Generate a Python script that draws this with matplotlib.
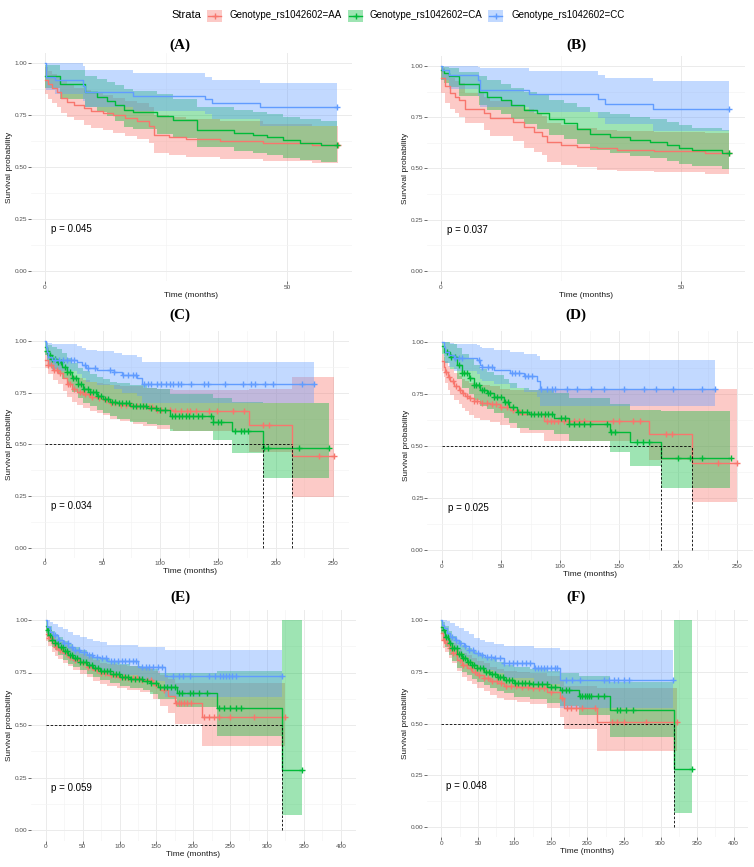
import numpy as np
import matplotlib
matplotlib.use("Agg")
import matplotlib.pyplot as plt
from matplotlib.patches import Rectangle

plt.rcParams['font.family'] = ['Liberation Sans', 'DejaVu Sans']

# ---------------- data ----------------
strata = ["Genotype_rs1042602=AA", "Genotype_rs1042602=CA", "Genotype_rs1042602=CC"]
colors = ["#F8766D", "#00BA38", "#619CFF"]
panel_labels = ["(A)", "(B)", "(C)", "(D)", "(E)", "(F)"]
pvals = ["p = 0.045", "p = 0.037", "p = 0.034", "p = 0.025", "p = 0.059", "p = 0.048"]

# Panel A
A_AA_t = [0, 0.7, 1.5, 2.5, 3.3, 4.5, 6, 8, 9.5, 12, 14, 16.5, 19, 21.5, 22.5, 25.5, 29, 36, 45, 55]
A_AA_s = [0.92, 0.90, 0.88, 0.86, 0.835, 0.815, 0.80, 0.785, 0.77, 0.76, 0.75, 0.735, 0.72, 0.70, 0.655, 0.645, 0.635, 0.625, 0.615, 0.605]
A_AA_lo = [0.85, 0.83, 0.81, 0.79, 0.76, 0.74, 0.725, 0.705, 0.69, 0.68, 0.665, 0.65, 0.635, 0.615, 0.57, 0.56, 0.55, 0.54, 0.53, 0.52]
A_AA_hi = [0.98, 0.965, 0.95, 0.935, 0.915, 0.895, 0.88, 0.87, 0.855, 0.845, 0.835, 0.82, 0.81, 0.79, 0.75, 0.74, 0.73, 0.72, 0.71, 0.70]
A_AA_end = 60.5
A_AA_cens = [60.5]
A_CA_t = [0, 3.1, 8.2, 10.7, 12.7, 14.4, 16.2, 18.2, 23, 26.5, 31.3, 38.9, 43, 45.7, 49.2, 52.6, 57]
A_CA_s = [0.94, 0.90, 0.86, 0.84, 0.82, 0.80, 0.775, 0.765, 0.745, 0.725, 0.68, 0.665, 0.655, 0.643, 0.63, 0.615, 0.605]
A_CA_lo = [0.88, 0.83, 0.79, 0.765, 0.745, 0.72, 0.695, 0.685, 0.66, 0.64, 0.595, 0.58, 0.57, 0.56, 0.545, 0.535, 0.525]
A_CA_hi = [0.99, 0.97, 0.94, 0.925, 0.91, 0.895, 0.875, 0.865, 0.85, 0.83, 0.79, 0.775, 0.765, 0.755, 0.74, 0.73, 0.72]
A_CA_end = 60.3
A_CA_cens = [60.3]
A_CC_t = [0, 0.2, 2.1, 7.9, 8.3, 18.2, 33, 34.4, 44.4]
A_CC_s = [1.0, 0.935, 0.918, 0.89, 0.862, 0.843, 0.83, 0.81, 0.79]
A_CC_lo = [1.0, 0.87, 0.85, 0.82, 0.79, 0.77, 0.755, 0.73, 0.70]
A_CC_hi = [1.0, 1.0, 1.0, 0.985, 0.97, 0.955, 0.935, 0.92, 0.905]
A_CC_end = 60.2
A_CC_cens = [60.2]

# Panel B
B_AA_t = [0, 0.9, 1.9, 3.0, 3.7, 5.1, 8.9, 10.3, 15.1, 17.2, 19.3, 21, 22.1, 24.9, 28.3, 32.5, 36.7, 44.3, 55]
B_AA_s = [0.94, 0.90, 0.87, 0.85, 0.835, 0.79, 0.77, 0.745, 0.725, 0.70, 0.68, 0.66, 0.63, 0.615, 0.607, 0.598, 0.59, 0.585, 0.578]
B_AA_lo = [0.87, 0.82, 0.79, 0.77, 0.75, 0.72, 0.69, 0.66, 0.635, 0.60, 0.58, 0.565, 0.53, 0.515, 0.505, 0.495, 0.49, 0.485, 0.475]
B_AA_hi = [0.99, 0.96, 0.94, 0.925, 0.915, 0.87, 0.85, 0.83, 0.81, 0.79, 0.77, 0.755, 0.72, 0.71, 0.70, 0.69, 0.685, 0.68, 0.675]
B_AA_end = 60.1
B_AA_cens = [60.1]
B_CA_t = [0, 0.55, 1.6, 3.7, 7.9, 9.6, 12.4, 14.6, 17.2, 20, 22.4, 25.6, 28.3, 31.1, 35.3, 39.4, 43.6, 47.1, 49.5, 52.3, 58.5]
B_CA_s = [0.98, 0.965, 0.95, 0.91, 0.875, 0.85, 0.835, 0.81, 0.785, 0.77, 0.74, 0.72, 0.695, 0.667, 0.655, 0.64, 0.63, 0.615, 0.60, 0.59, 0.578]
B_CA_lo = [0.93, 0.915, 0.90, 0.855, 0.81, 0.785, 0.765, 0.74, 0.715, 0.695, 0.665, 0.645, 0.62, 0.59, 0.575, 0.56, 0.55, 0.535, 0.52, 0.51, 0.50]
B_CA_hi = [1.0, 0.995, 0.99, 0.97, 0.95, 0.93, 0.91, 0.895, 0.875, 0.86, 0.835, 0.82, 0.80, 0.775, 0.765, 0.75, 0.74, 0.725, 0.71, 0.70, 0.69]
B_CA_end = 60.1
B_CA_cens = [60.1]
B_CC_t = [0, 0.3, 1.6, 7.8, 8.2, 18.3, 32.8, 34.1, 44.2]
B_CC_s = [1.0, 0.98, 0.955, 0.93, 0.885, 0.862, 0.837, 0.815, 0.79]
B_CC_lo = [1.0, 0.93, 0.89, 0.855, 0.80, 0.775, 0.745, 0.715, 0.685]
B_CC_hi = [1.0, 1.0, 1.0, 0.995, 0.99, 0.975, 0.955, 0.94, 0.925]
B_CC_end = 60.1
B_CC_cens = [60.1]

# Panel C
C_AA_t = [0, 2.3, 7.2, 11.6, 15.9, 18.8, 23.1, 27.5, 33.2, 39, 44.8, 50.6, 56.4, 65, 76.6, 85.3, 96.8, 111, 177, 214]
C_AA_s = [0.91, 0.885, 0.86, 0.845, 0.82, 0.79, 0.77, 0.755, 0.745, 0.73, 0.722, 0.714, 0.70, 0.69, 0.685, 0.68, 0.668, 0.662, 0.595, 0.445]
C_AA_lo = [0.87, 0.84, 0.81, 0.79, 0.76, 0.73, 0.705, 0.69, 0.675, 0.66, 0.65, 0.64, 0.625, 0.615, 0.60, 0.59, 0.575, 0.565, 0.465, 0.245]
C_AA_hi = [0.95, 0.93, 0.91, 0.895, 0.875, 0.85, 0.83, 0.82, 0.81, 0.80, 0.795, 0.79, 0.785, 0.78, 0.78, 0.775, 0.77, 0.765, 0.77, 0.825]
C_AA_end = 251
C_AA_cens = [3, 5, 8, 10, 13, 20, 22, 25, 30, 33, 35, 38, 41, 47, 53, 57, 61, 66, 70, 75, 80, 85, 90, 93, 97, 101, 108, 113, 118, 123, 126, 131, 142, 149, 163, 173, 189, 194, 238, 251]
C_CA_t = [0, 1.4, 2.9, 5.8, 10.1, 14.5, 18.8, 23.1, 28.9, 33.2, 39, 44.8, 50.6, 56.4, 62.1, 73.7, 88.2, 97, 108, 146, 162, 189]
C_CA_s = [0.97, 0.95, 0.93, 0.915, 0.90, 0.875, 0.85, 0.82, 0.79, 0.77, 0.755, 0.735, 0.72, 0.705, 0.698, 0.685, 0.675, 0.668, 0.637, 0.606, 0.566, 0.48]
C_CA_lo = [0.93, 0.905, 0.885, 0.865, 0.845, 0.815, 0.79, 0.755, 0.725, 0.70, 0.685, 0.665, 0.65, 0.635, 0.625, 0.61, 0.60, 0.595, 0.565, 0.52, 0.46, 0.335]
C_CA_hi = [1.0, 0.99, 0.98, 0.97, 0.96, 0.94, 0.92, 0.895, 0.87, 0.855, 0.84, 0.825, 0.815, 0.80, 0.795, 0.785, 0.775, 0.77, 0.745, 0.725, 0.705, 0.70]
C_CA_end = 246
C_CA_cens = [2, 4, 6, 9, 11, 14, 17, 19, 22, 24, 27, 29, 31, 34, 37, 39, 42, 44, 46, 49, 52, 55, 58, 61, 64, 67, 70, 73, 76, 79, 82, 85, 88, 92, 96, 100, 104, 110, 113, 116, 119, 122, 125, 128, 133, 136, 144, 146, 150, 153, 165, 170, 173, 176, 190, 193, 220, 246]
C_CC_t = [0, 0.5, 1.5, 3, 6, 28, 32, 36, 45, 60, 67, 80, 84]
C_CC_s = [1.0, 0.97, 0.945, 0.925, 0.91, 0.90, 0.885, 0.87, 0.86, 0.85, 0.835, 0.82, 0.79]
C_CC_lo = [1.0, 0.93, 0.90, 0.875, 0.855, 0.84, 0.82, 0.80, 0.785, 0.77, 0.75, 0.735, 0.70]
C_CC_hi = [1.0, 1.0, 0.995, 0.99, 0.985, 0.975, 0.965, 0.955, 0.95, 0.94, 0.93, 0.925, 0.90]
C_CC_end = 233
C_CC_cens = [9, 12, 16, 19, 23, 25, 35, 37, 43, 56, 60, 68, 72, 76, 79, 86, 89, 92, 97, 101, 105, 108, 111, 115, 118, 127, 138, 141, 156, 172, 179, 182, 191, 198, 223, 233]

# Panel D
D_AA_t = [0, 1.4, 2.8, 4.8, 7.1, 9.9, 14.1, 17, 19.8, 22.6, 26.8, 32.5, 41, 49.4, 57.9, 66.4, 86.2, 175, 212]
D_AA_s = [0.905, 0.88, 0.855, 0.83, 0.81, 0.785, 0.77, 0.752, 0.74, 0.728, 0.717, 0.707, 0.70, 0.688, 0.672, 0.653, 0.62, 0.557, 0.416]
D_AA_lo = [0.86, 0.83, 0.80, 0.77, 0.745, 0.72, 0.70, 0.68, 0.665, 0.65, 0.635, 0.625, 0.615, 0.60, 0.585, 0.56, 0.525, 0.43, 0.23]
D_AA_hi = [0.94, 0.925, 0.905, 0.885, 0.87, 0.85, 0.835, 0.82, 0.81, 0.80, 0.795, 0.79, 0.785, 0.775, 0.77, 0.77, 0.77, 0.77, 0.775]
D_AA_end = 250
D_AA_cens = [3, 6, 9, 12, 15, 18, 21, 24, 27, 30, 34, 38, 42, 46, 50, 55, 60, 89, 92, 95, 98, 103, 107, 112, 116, 120, 145, 150, 162, 168, 190, 195, 234, 250]
D_CA_t = [0, 1.4, 7.1, 12.7, 16.9, 22.6, 26.8, 32.5, 38.1, 43.8, 52.3, 56.5, 63.6, 73.4, 94.6, 107.3, 142.6, 159.6, 186]
D_CA_s = [0.98, 0.95, 0.928, 0.888, 0.848, 0.824, 0.792, 0.768, 0.752, 0.736, 0.712, 0.688, 0.664, 0.653, 0.632, 0.603, 0.568, 0.52, 0.44]
D_CA_lo = [0.94, 0.90, 0.87, 0.82, 0.78, 0.75, 0.72, 0.69, 0.675, 0.66, 0.635, 0.61, 0.585, 0.575, 0.555, 0.525, 0.47, 0.405, 0.30]
D_CA_hi = [1.0, 1.0, 0.99, 0.97, 0.94, 0.92, 0.89, 0.87, 0.855, 0.84, 0.82, 0.80, 0.78, 0.77, 0.755, 0.73, 0.70, 0.67, 0.665]
D_CA_end = 244
D_CA_cens = [4, 8, 11, 14, 17, 19, 21, 24, 27, 29, 31, 34, 36, 39, 41, 44, 47, 50, 53, 56, 60, 64, 68, 72, 75, 78, 81, 84, 87, 90, 93, 101, 104, 108, 112, 116, 120, 125, 140, 143, 147, 165, 170, 175, 200, 210, 220, 245]
D_CC_t = [0, 1.4, 2.8, 5.6, 9.9, 29.7, 32.5, 33.9, 43.8, 57.9, 69.2, 80.5, 83.3]
D_CC_s = [1.0, 0.975, 0.95, 0.935, 0.92, 0.91, 0.89, 0.88, 0.865, 0.85, 0.835, 0.81, 0.775]
D_CC_lo = [1.0, 0.93, 0.90, 0.88, 0.86, 0.845, 0.82, 0.81, 0.795, 0.78, 0.76, 0.735, 0.69]
D_CC_hi = [1.0, 1.0, 1.0, 0.995, 0.99, 0.985, 0.975, 0.97, 0.96, 0.95, 0.94, 0.93, 0.91]
D_CC_end = 231.6
D_CC_cens = [11, 14, 17, 31, 34, 39, 42, 59, 62, 65, 70, 73, 76, 84, 89, 93, 96, 106, 114, 126, 137, 154, 171, 181, 196, 220, 231.6]

# Panel E
E_AA_t = [0, 3.6, 8.1, 12.7, 17.2, 24, 30.7, 37.5, 46.6, 55.6, 64.6, 73.7, 82.7, 96.3, 109.8, 127.9, 146, 155, 166.3, 175.4, 211.5]
E_AA_s = [0.935, 0.913, 0.889, 0.873, 0.857, 0.841, 0.825, 0.81, 0.794, 0.778, 0.762, 0.746, 0.738, 0.73, 0.722, 0.714, 0.69, 0.667, 0.638, 0.606, 0.54]
E_AA_lo = [0.90, 0.875, 0.85, 0.83, 0.815, 0.795, 0.78, 0.76, 0.745, 0.73, 0.71, 0.695, 0.685, 0.675, 0.665, 0.655, 0.625, 0.59, 0.555, 0.505, 0.40]
E_AA_hi = [0.965, 0.945, 0.925, 0.91, 0.895, 0.88, 0.865, 0.855, 0.84, 0.825, 0.81, 0.795, 0.79, 0.785, 0.78, 0.775, 0.755, 0.74, 0.72, 0.70, 0.70]
E_AA_end = 324.5
E_AA_cens = [4, 7, 11, 14, 19, 22, 27, 33, 39, 44, 50, 57, 63, 69, 75, 81, 88, 94, 100, 106, 112, 118, 124, 131, 137, 143, 150, 160, 176, 180, 184, 188, 192, 197, 214, 222, 228, 235, 250, 282, 324.5]
E_CA_t = [0, 1.4, 3.6, 8.1, 12.7, 17.2, 24, 30.7, 37.5, 46.6, 55.6, 64.6, 73.7, 87.2, 100.8, 114.4, 132.4, 141.5, 152.8, 177.6, 231.9, 320]
E_CA_s = [0.97, 0.952, 0.929, 0.905, 0.889, 0.873, 0.852, 0.833, 0.817, 0.802, 0.786, 0.77, 0.757, 0.741, 0.727, 0.717, 0.711, 0.698, 0.679, 0.651, 0.579, 0.286]
E_CA_lo = [0.94, 0.92, 0.895, 0.87, 0.855, 0.835, 0.81, 0.79, 0.775, 0.76, 0.745, 0.73, 0.715, 0.70, 0.685, 0.675, 0.665, 0.65, 0.625, 0.585, 0.45, 0.07]
E_CA_hi = [1.0, 0.99, 0.97, 0.95, 0.935, 0.92, 0.9, 0.885, 0.87, 0.855, 0.84, 0.825, 0.815, 0.80, 0.79, 0.78, 0.775, 0.765, 0.75, 0.75, 0.755, 1.0]
E_CA_end = 347
E_CA_cens = [3, 6, 9, 13, 16, 20, 23, 26, 29, 33, 36, 40, 43, 47, 51, 55, 59, 63, 67, 71, 75, 79, 83, 87, 91, 95, 99, 103, 107, 111, 116, 121, 126, 131, 137, 143, 149, 155, 160, 165, 170, 175, 180, 185, 195, 200, 208, 218, 235, 242, 250, 258, 265, 347]
E_CC_t = [0, 1.3, 5.8, 10.4, 17.1, 23.9, 30.7, 37.5, 46.5, 55.5, 64.6, 73.6, 82.7, 125.6, 161.8]
E_CC_s = [1.0, 0.968, 0.944, 0.929, 0.905, 0.889, 0.873, 0.857, 0.849, 0.833, 0.825, 0.817, 0.805, 0.778, 0.735]
E_CC_lo = [1.0, 0.93, 0.90, 0.88, 0.855, 0.835, 0.82, 0.80, 0.79, 0.775, 0.765, 0.755, 0.74, 0.71, 0.635]
E_CC_hi = [1.0, 1.0, 0.99, 0.98, 0.965, 0.955, 0.945, 0.93, 0.92, 0.91, 0.90, 0.895, 0.88, 0.87, 0.857]
E_CC_end = 320
E_CC_cens = [12, 18, 25, 30, 35, 40, 45, 52, 58, 63, 70, 76, 82, 88, 93, 98, 103, 108, 113, 118, 122, 130, 136, 140, 146, 152, 158, 173, 180, 186, 195, 222, 230, 236, 240, 244, 248, 252, 258, 320]

# Panel F
F_AA_t = [0, 2.3, 5.5, 10, 14.6, 21.4, 28.3, 35.1, 42, 48.8, 57.9, 67, 76.2, 85.3, 103.5, 121.8, 144.6, 162.8, 167.4, 213]
F_AA_s = [0.935, 0.904, 0.887, 0.863, 0.839, 0.807, 0.783, 0.767, 0.751, 0.735, 0.722, 0.707, 0.695, 0.682, 0.675, 0.67, 0.651, 0.622, 0.577, 0.505]
F_AA_lo = [0.90, 0.865, 0.845, 0.815, 0.79, 0.755, 0.725, 0.705, 0.69, 0.67, 0.655, 0.64, 0.625, 0.615, 0.605, 0.595, 0.575, 0.53, 0.475, 0.365]
F_AA_hi = [0.97, 0.945, 0.93, 0.91, 0.89, 0.86, 0.84, 0.83, 0.815, 0.80, 0.79, 0.775, 0.765, 0.755, 0.75, 0.745, 0.73, 0.71, 0.68, 0.67]
F_AA_end = 322.5
F_AA_cens = [4, 8, 12, 16, 20, 25, 30, 35, 40, 46, 52, 58, 64, 70, 76, 82, 88, 95, 102, 110, 118, 126, 134, 140, 150, 165, 172, 177, 185, 192, 210, 233, 240, 250, 280, 322.5]
F_CA_t = [0, 1.8, 5.5, 10, 14.6, 21.4, 28.3, 35.1, 42, 48.8, 57.9, 67, 76.2, 85.3, 99, 121.8, 144.6, 162.8, 187.9, 231.2, 317.9]
F_CA_s = [0.968, 0.952, 0.92, 0.887, 0.863, 0.836, 0.815, 0.799, 0.783, 0.767, 0.751, 0.738, 0.723, 0.711, 0.698, 0.69, 0.675, 0.662, 0.633, 0.566, 0.28]
F_CA_lo = [0.93, 0.91, 0.87, 0.83, 0.80, 0.77, 0.75, 0.735, 0.715, 0.70, 0.685, 0.67, 0.655, 0.645, 0.63, 0.62, 0.60, 0.585, 0.54, 0.435, 0.07]
F_CA_hi = [1.0, 0.99, 0.97, 0.945, 0.925, 0.90, 0.88, 0.865, 0.85, 0.835, 0.82, 0.81, 0.795, 0.785, 0.775, 0.765, 0.755, 0.745, 0.73, 0.70, 1.0]
F_CA_end = 343
F_CA_cens = [3, 6, 9, 12, 15, 18, 21, 24, 27, 30, 33, 36, 39, 42, 45, 49, 53, 57, 61, 65, 69, 73, 77, 81, 85, 89, 93, 97, 101, 105, 110, 115, 120, 126, 132, 138, 144, 150, 156, 165, 170, 175, 190, 193, 196, 199, 202, 205, 215, 222, 240, 245, 253, 263, 343]
F_CC_t = [0, 1.0, 3.2, 7.8, 12.4, 19.2, 23.8, 30.6, 37.5, 44.3, 53.4, 60.3, 71.8, 85.4, 126.4, 162.9]
F_CC_s = [1.0, 0.975, 0.96, 0.936, 0.92, 0.904, 0.888, 0.872, 0.856, 0.84, 0.832, 0.82, 0.815, 0.79, 0.767, 0.71]
F_CC_lo = [1.0, 0.95, 0.925, 0.90, 0.88, 0.86, 0.84, 0.82, 0.80, 0.785, 0.77, 0.76, 0.745, 0.72, 0.69, 0.575]
F_CC_hi = [1.0, 1.0, 1.0, 0.995, 0.985, 0.97, 0.96, 0.945, 0.93, 0.915, 0.905, 0.895, 0.885, 0.875, 0.865, 0.855]
F_CC_end = 317
F_CC_cens = [15, 20, 26, 32, 38, 44, 50, 56, 62, 68, 74, 80, 86, 92, 98, 104, 110, 116, 122, 128, 132, 136, 140, 145, 150, 155, 158, 171, 179, 190, 222, 230, 236, 242, 250, 257, 317]

xticks_A = [0, 50]
xticks_C = [0, 50, 100, 150, 200, 250]
xticks_E = [0, 50, 100, 150, 200, 250, 300, 350, 400]
yticks = [0.0, 0.25, 0.5, 0.75, 1.0]

# ---------------- layout ----------------
W, H = 754, 867
fig = plt.figure(figsize=(W / 100, H / 100), dpi=100)

overlay = fig.add_axes([0, 0, 1, 1])
overlay.set_xlim(0, W)
overlay.set_ylim(H, 0)
overlay.axis('off')

def px_axes(l, t, r, b):
    return fig.add_axes([l / W, 1 - b / H, (r - l) / W, (b - t) / H])

panels = [
    dict(box=(30.5, 52.9, 351.8, 281.4), xlim=(-3.0, 63.3), xt=xticks_A, minor=[25],
         groups=[(A_AA_t, A_AA_s, A_AA_lo, A_AA_hi, A_AA_end, A_AA_cens),
                 (A_CA_t, A_CA_s, A_CA_lo, A_CA_hi, A_CA_end, A_CA_cens),
                 (A_CC_t, A_CC_s, A_CC_lo, A_CC_hi, A_CC_end, A_CC_cens)]),
    dict(box=(426.6, 55.75, 744.8, 281.25), xlim=(-3.0, 63.3), xt=xticks_A, minor=[25],
         groups=[(B_AA_t, B_AA_s, B_AA_lo, B_AA_hi, B_AA_end, B_AA_cens),
                 (B_CA_t, B_CA_s, B_CA_lo, B_CA_hi, B_CA_end, B_CA_cens),
                 (B_CC_t, B_CC_s, B_CC_lo, B_CC_hi, B_CC_end, B_CC_cens)]),
    dict(box=(30.5, 330.7, 348.9, 558.0), xlim=(-12.55, 263.55), xt=xticks_C, minor=[25, 75, 125, 175, 225],
         groups=[(C_AA_t, C_AA_s, C_AA_lo, C_AA_hi, C_AA_end, C_AA_cens),
                 (C_CA_t, C_CA_s, C_CA_lo, C_CA_hi, C_CA_end, C_CA_cens),
                 (C_CC_t, C_CC_s, C_CC_lo, C_CC_hi, C_CC_end, C_CC_cens)]),
    dict(box=(427.2, 331.3, 753.0, 560.4), xlim=(-12.55, 263.55), xt=xticks_C, minor=[25, 75, 125, 175, 225],
         groups=[(D_AA_t, D_AA_s, D_AA_lo, D_AA_hi, D_AA_end, D_AA_cens),
                 (D_CA_t, D_CA_s, D_CA_lo, D_CA_hi, D_CA_end, D_CA_cens),
                 (D_CC_t, D_CC_s, D_CC_lo, D_CC_hi, D_CC_end, D_CC_cens)]),
    dict(box=(31.0, 609.5, 355.5, 840.5), xlim=(-20, 420), xt=xticks_E, minor=[25, 75, 125, 175, 225, 275, 325, 375],
         groups=[(E_AA_t, E_AA_s, E_AA_lo, E_AA_hi, E_AA_end, E_AA_cens),
                 (E_CA_t, E_CA_s, E_CA_lo, E_CA_hi, E_CA_end, E_CA_cens),
                 (E_CC_t, E_CC_s, E_CC_lo, E_CC_hi, E_CC_end, E_CC_cens)]),
    dict(box=(426.7, 609.65, 748.2, 837.35), xlim=(-20, 420), xt=xticks_E, minor=[25, 75, 125, 175, 225, 275, 325, 375],
         groups=[(F_AA_t, F_AA_s, F_AA_lo, F_AA_hi, F_AA_end, F_AA_cens),
                 (F_CA_t, F_CA_s, F_CA_lo, F_CA_hi, F_CA_end, F_CA_cens),
                 (F_CC_t, F_CC_s, F_CC_lo, F_CC_hi, F_CC_end, F_CC_cens)]),
]

title_pos = [(180, 45), (576, 45), (180, 315), (576, 315), (180, 597), (576, 597)]

for i, p in enumerate(panels):
    ax = px_axes(*p['box'])
    l, t_, r, b = p['box']
    ax.set_xlim(*p['xlim'])
    ax.set_ylim(-0.05, 1.05)
    for sp in ax.spines.values():
        sp.set_visible(False)
    ax.set_xticks(p['xt'])
    ax.set_xticks(p['minor'], minor=True)
    ax.set_yticks(yticks)
    ax.set_yticks([0.125, 0.375, 0.625, 0.875], minor=True)
    ax.set_yticklabels([f"{v:.2f}" for v in yticks])
    ax.grid(which='major', color='#EBEBEB', lw=0.7)
    ax.grid(which='minor', color='#F3F3F3', lw=0.45)
    ax.set_axisbelow(True)
    ax.tick_params(which='major', labelsize=4.6, colors='#333333', labelcolor='#4D4D4D',
                   length=2, width=0.5, pad=0.4)
    ax.tick_params(which='minor', length=0)
    ax.set_xlabel("Time (months)", fontsize=6, labelpad=1.5, color='#1A1A1A')
    ax.set_ylabel("Survival probability", fontsize=6, color='#1A1A1A')
    ax.yaxis.set_label_coords(-17.5 / (r - l), 0.5)

    # CI ribbons
    for (t, s, lo, hi, end, cens), c in zip(p['groups'], colors):
        x = np.r_[t, end]
        ax.fill_between(x, np.r_[lo, lo[-1]], np.r_[hi, hi[-1]], step='post',
                        color=c, alpha=0.38, lw=0)
    # curves and censor marks
    medians = []
    for (t, s, lo, hi, end, cens), c in zip(p['groups'], colors):
        t = np.asarray(t, float)
        s = np.asarray(s, float)
        x = np.r_[t, end]
        y = np.r_[s, s[-1]]
        ax.step(x, y, where='post', color=c, lw=1.0)
        cens = np.asarray(cens, float)
        idx = np.clip(np.searchsorted(t, cens, side='right') - 1, 0, len(s) - 1)
        ax.plot(cens, s[idx], ls='none', marker='+', color=c, ms=4.5, mew=1.0)
        below = np.where(s <= 0.5)[0]
        if len(below):
            medians.append(t[below[0]])
    # median lines
    if medians:
        ax.plot([0, max(medians)], [0.5, 0.5], ls=(0, (3, 2)), color='black', lw=0.6)
        for m in medians:
            ax.plot([m, m], [0, 0.5], ls=(0, (3, 2)), color='black', lw=0.6)
    # p-value
    xmax = max(g[4] for g in p['groups'])
    ax.text(xmax / 50, 0.2, pvals[i], fontsize=7, ha='left', va='center', color='black')

    tx, ty = title_pos[i]
    overlay.text(tx, ty, panel_labels[i], fontsize=11, fontweight='bold',
                 family='Liberation Serif', ha='center', va='center')

# legend
overlay.text(171, 15.5, "Strata", fontsize=8, ha='left', va='center', color='black')
key_x = [207, 348, 488]
txt_x = [230, 370, 512]
for kx, tx, c, lab in zip(key_x, txt_x, colors, strata):
    overlay.add_patch(Rectangle((kx, 9.5), 15, 12, facecolor=c, alpha=0.38, lw=0))
    overlay.plot([kx + 1, kx + 14], [15.5, 15.5], color=c, lw=1.0)
    overlay.plot([kx + 7.5], [15.5], marker='+', color=c, ms=5, mew=1.0)
    overlay.text(tx, 15.5, lab, fontsize=7, ha='left', va='center', color='black')

fig.savefig("out.png", dpi=100)
